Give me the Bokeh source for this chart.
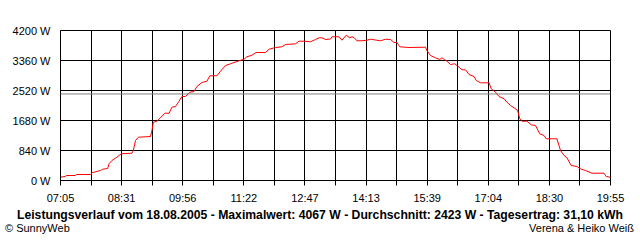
import html
from bokeh.plotting import figure
from bokeh.layouts import column
from bokeh.models import Range1d, FixedTicker, Span, Div
from bokeh.embed import file_html
from bokeh.resources import INLINE

# ---- data -------------------------------------------------------------
times = ["07:05", "07:12", "07:13", "07:26", "07:27", "07:47", "07:49", "07:54", "08:01", "08:04",
         "08:11", "08:13", "08:17", "08:24", "08:30", "08:45", "08:47", "08:50", "08:54", "09:11",
         "09:13", "09:15", "09:20", "09:25", "09:31", "09:37", "09:41", "09:46", "09:51", "09:55",
         "10:00", "10:06", "10:12", "10:16", "10:23", "10:30", "10:34", "10:44", "10:49", "10:56",
         "11:03", "11:12", "11:22", "11:26", "11:33", "11:39", "11:52", "11:57", "12:06", "12:15",
         "12:20", "12:34", "12:39", "12:46", "12:55", "13:02", "13:07", "13:11", "13:16", "13:23",
         "13:25", "13:35", "13:39", "13:45", "13:50", "13:53", "13:56", "14:00", "14:07", "14:14",
         "14:19", "14:24", "14:33", "14:40", "14:47", "14:52", "14:56", "15:00", "15:13", "15:36",
         "15:38", "15:43", "15:50", "15:56", "15:59", "16:03", "16:06", "16:11", "16:17", "16:23",
         "16:27", "16:32", "16:37", "16:44", "16:47", "16:53", "17:05", "17:08", "17:14", "17:19",
         "17:26", "17:30", "17:35", "17:40", "17:45", "17:48", "17:51", "17:58", "18:04", "18:10",
         "18:16", "18:22", "18:25", "18:40", "18:45", "18:50", "18:54", "19:00", "19:08", "19:13",
         "19:20", "19:29", "19:46", "19:49", "19:55"]
power_w = [95, 112, 140, 140, 168, 168, 216, 244, 280, 316,
           336, 468, 560, 652, 748, 764, 840, 1120, 1212, 1232,
           1400, 1632, 1660, 1756, 1884, 1884, 2052, 2072, 2220, 2352,
           2352, 2472, 2492, 2632, 2744, 2780, 2932, 2932, 3060, 3220,
           3268, 3332, 3396, 3464, 3508, 3584, 3584, 3676, 3724, 3744,
           3808, 3828, 3900, 3900, 3884, 3948, 3996, 3996, 3948, 3962,
           4024, 4024, 3928, 4067, 3996, 4024, 4004, 3912, 3912, 3928,
           3956, 3940, 3912, 3956, 3948, 3864, 3864, 3744, 3724, 3732,
           3640, 3500, 3436, 3388, 3436, 3380, 3340, 3248, 3268, 3172,
           3100, 3100, 2968, 2912, 2800, 2736, 2736, 2568, 2472, 2352,
           2288, 2192, 2100, 2036, 1960, 1728, 1660, 1660, 1560, 1540,
           1308, 1260, 1168, 1168, 840, 700, 636, 420, 392, 328,
           280, 204, 204, 112, 92]
average_w = 2423
x_tick_labels = ["07:05", "08:31", "09:56", "11:22", "12:47", "14:13", "15:39", "17:04", "18:30", "19:55"]
y_ticks = [0, 840, 1680, 2520, 3360, 4200]
title_text = "Leistungsverlauf vom 18.08.2005 - Maximalwert: 4067 W - Durchschnitt: 2423 W - Tagesertrag: 31,10 kWh"
left_credit = "\u00a9 SunnyWeb"
right_credit = "Verena & Heiko Wei\u00df"


def to_min(s):
    h, m = s.split(":")
    return int(h) * 60 + int(m)


xs = [to_min(t) for t in times]
x_start = to_min(x_tick_labels[0])
x_end = to_min(x_tick_labels[-1])
n = len(x_tick_labels) - 1
step = (x_end - x_start) / n
major = [x_start + i * step for i in range(n + 1)]
minor = [x_start + (i + 0.5) * step for i in range(n)]

FONT = "Liberation Sans"

# ---- main chart ---------------------------------------------------------
p = figure(width=640, height=206, output_backend="svg", toolbar_location=None,
           x_range=Range1d(x_start, x_end), y_range=Range1d(0, 4200),
           min_border_left=60, min_border_right=30, min_border_top=30, min_border_bottom=26,
           background_fill_color="white", border_fill_color="white")
p.outline_line_color = "black"
p.outline_line_alpha = 1

p.xaxis.ticker = FixedTicker(ticks=major, minor_ticks=minor)
p.xaxis.major_label_overrides = {m: lab for m, lab in zip(major, x_tick_labels)}
p.xaxis.major_tick_out = 5
p.xaxis.major_tick_in = 0
p.xaxis.minor_tick_out = 5
p.xaxis.minor_tick_in = 0
p.xaxis.major_label_standoff = 6
p.xaxis.axis_line_color = "black"
p.xaxis.major_tick_line_color = "black"
p.xaxis.minor_tick_line_color = "black"

p.yaxis.ticker = FixedTicker(ticks=y_ticks)
p.yaxis.major_label_overrides = {v: f"{v} W" for v in y_ticks}
p.yaxis.major_tick_out = 0
p.yaxis.major_tick_in = 0
p.yaxis.minor_tick_line_color = None
p.yaxis.major_label_standoff = 10
p.yaxis.axis_line_color = "black"

for ax in (p.xaxis, p.yaxis):
    ax.major_label_text_font = FONT
    ax.major_label_text_font_size = "11px"
    ax.major_label_text_color = "black"

p.xgrid.ticker = FixedTicker(ticks=major, minor_ticks=minor)
p.xgrid.grid_line_color = "black"
p.xgrid.minor_grid_line_color = "black"
p.ygrid.ticker = FixedTicker(ticks=y_ticks)
p.ygrid.grid_line_color = "black"

p.add_layout(Span(location=average_w, dimension="width", line_color="#808080", line_width=1))

p.line(xs, power_w, line_color="#ff0000", line_width=1)

# ---- caption strip --------------------------------------------------------
base = "position:absolute;white-space:nowrap;margin:0;padding:0;"
caption_html = (
    f'<div style="position:relative;width:640px;height:34px;font-family:\'{FONT}\';color:#000;">'
    f'<div style="{base}left:0;width:640px;top:3px;text-align:center;font-weight:bold;'
    f'font-size:12.2px;line-height:13px;">{html.escape(title_text)}</div>'
    f'<div style="{base}left:5px;top:16px;font-size:11px;line-height:13px;">{html.escape(left_credit)}</div>'
    f'<div style="{base}right:6px;top:16px;font-size:11px;line-height:13px;">{html.escape(right_credit)}</div>'
    '</div>'
)
cap = Div(text=caption_html, width=640, height=34, margin=0,
          styles={"margin": "0", "padding": "0", "background": "white"})

layout = column(p, cap, spacing=0)
open("out.html", "w").write(file_html(layout, INLINE))
